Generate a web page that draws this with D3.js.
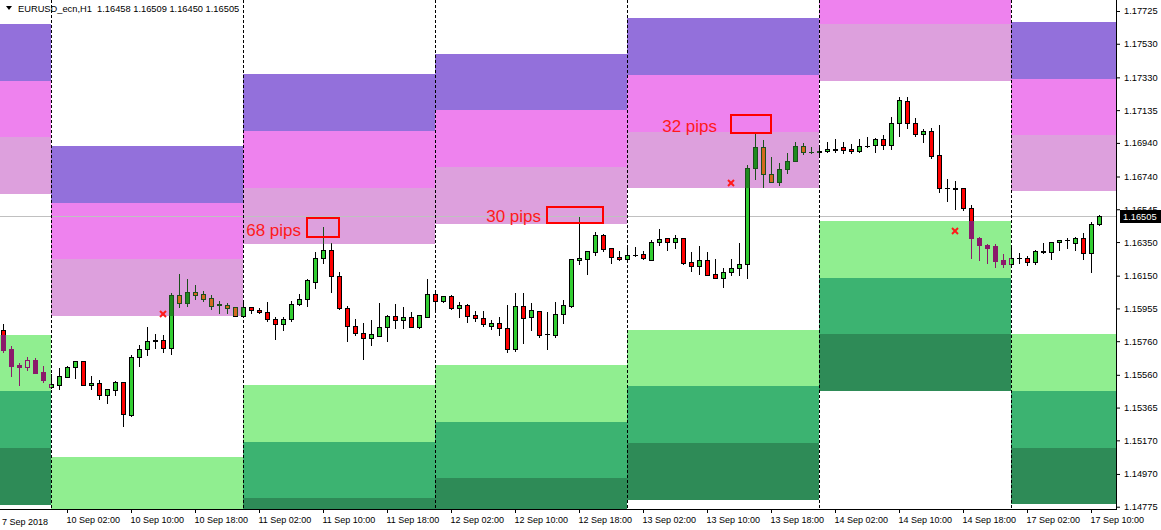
<!DOCTYPE html>
<html><head><meta charset="utf-8">
<script src="https://cdn.jsdelivr.net/npm/d3@7"></script>
<style>
html,body{margin:0;padding:0;background:#fff;}
svg{display:block;}
text{font-family:"Liberation Sans",Arial,sans-serif;}
</style></head><body>
<svg id="chart" width="1161" height="530"></svg>
<script>
// ---------------- DATA ----------------
const symbolTitle = "EURUSD_ecn,H1  1.16458 1.16509 1.16450 1.16505";
const sessionDays = ["2018-09-07","2018-09-10","2018-09-11","2018-09-12","2018-09-13","2018-09-14","2018-09-17"];
const sessionStartHour = [18,0,0,0,0,0,0];
const sessionBars = [6,24,24,24,24,24,12];
const priceRange = [1.147614, 1.177904];
const yTicks = [1.17725,1.17530,1.17330,1.17135,1.16940,1.16740,1.16545,1.16350,1.16150,1.15955,1.15760,1.15560,1.15365,1.15170,1.14970,1.14775];
const lastPrice = 1.16505;
// [open, high, low, close]
const candles = [
[1.15826,1.15862,1.15696,1.15708],[1.15712,1.15731,1.15553,1.15612],[1.15618,1.15632,1.15499,1.15608],[1.15608,1.15668,1.15589,1.15648],
[1.15648,1.15658,1.15569,1.15572],[1.15576,1.15612,1.15517,1.15529],[1.15489,1.15565,1.15480,1.15505],[1.15501,1.15602,1.15477,1.15553],
[1.15549,1.15612,1.15545,1.15606],[1.15605,1.15640,1.15543,1.15640],[1.15640,1.15640,1.15497,1.15497],[1.15497,1.15551,1.15474,1.15509],
[1.15509,1.15529,1.15418,1.15438],[1.15438,1.15474,1.15394,1.15474],[1.15470,1.15523,1.15442,1.15515],[1.15515,1.15515,1.15257,1.15325],
[1.15322,1.15678,1.15317,1.15664],[1.15664,1.15737,1.15614,1.15712],[1.15712,1.15844,1.15678,1.15761],[1.15759,1.15801,1.15718,1.15767],
[1.15767,1.15797,1.15694,1.15718],[1.15718,1.16045,1.15682,1.16035],[1.16035,1.16160,1.15965,1.15989],[1.15989,1.16130,1.15971,1.16053],
[1.16053,1.16094,1.16013,1.16036],[1.16041,1.16058,1.16001,1.16009],[1.16017,1.16036,1.15953,1.15971],[1.15975,1.16001,1.15929,1.15979],
[1.15975,1.15985,1.15926,1.15959],[1.15962,1.15965,1.15910,1.15912],[1.15912,1.15989,1.15910,1.15962],[1.15962,1.15962,1.15926,1.15944],
[1.15946,1.15956,1.15926,1.15932],[1.15932,1.15993,1.15880,1.15890],[1.15892,1.15902,1.15775,1.15860],[1.15860,1.15902,1.15828,1.15892],
[1.15890,1.15999,1.15880,1.15979],[1.15979,1.16041,1.15973,1.16011],[1.16009,1.16130,1.15971,1.16124],[1.16114,1.16292,1.16078,1.16253],
[1.16253,1.16441,1.16223,1.16301],[1.16301,1.16342,1.16054,1.16146],[1.16146,1.16172,1.15950,1.15956],[1.15956,1.15968,1.15759,1.15849],
[1.15849,1.15892,1.15797,1.15807],[1.15810,1.15866,1.15652,1.15777],[1.15777,1.15886,1.15736,1.15801],[1.15793,1.15985,1.15793,1.15843],
[1.15843,1.15917,1.15759,1.15910],[1.15908,1.15979,1.15838,1.15884],[1.15884,1.15962,1.15838,1.15902],[1.15902,1.15932,1.15842,1.15846],
[1.15846,1.15914,1.15836,1.15914],[1.15906,1.16128,1.15902,1.16039],[1.16039,1.16064,1.15946,1.16001],[1.16001,1.16027,1.15993,1.16027],
[1.16027,1.16035,1.15951,1.15956],[1.15956,1.15993,1.15906,1.15973],[1.15973,1.15979,1.15876,1.15908],[1.15914,1.15939,1.15880,1.15896],
[1.15896,1.15939,1.15850,1.15860],[1.15851,1.15886,1.15830,1.15866],[1.15866,1.15902,1.15797,1.15836],[1.15836,1.15973,1.15698,1.15712],
[1.15712,1.16045,1.15703,1.15969],[1.15969,1.16045,1.15751,1.15900],[1.15906,1.15985,1.15827,1.15946],[1.15939,1.15942,1.15786,1.15799],
[1.15800,1.15934,1.15715,1.15801],[1.15795,1.15991,1.15783,1.15920],[1.15920,1.16005,1.15870,1.15973],[1.15971,1.16249,1.15965,1.16249],
[1.16241,1.16501,1.16217,1.16253],[1.16251,1.16296,1.16162,1.16296],[1.16292,1.16408,1.16273,1.16392],[1.16392,1.16395,1.16298,1.16310],
[1.16313,1.16316,1.16227,1.16259],[1.16259,1.16296,1.16243,1.16247],[1.16247,1.16313,1.16233,1.16271],[1.16271,1.16320,1.16267,1.16275],
[1.16277,1.16296,1.16251,1.16253],[1.16245,1.16362,1.16245,1.16348],[1.16348,1.16427,1.16332,1.16368],[1.16372,1.16374,1.16303,1.16348],
[1.16348,1.16392,1.16316,1.16372],[1.16372,1.16374,1.16221,1.16227],[1.16229,1.16289,1.16178,1.16206],[1.16206,1.16326,1.16162,1.16241],
[1.16241,1.16292,1.16156,1.16156],[1.16158,1.16247,1.16138,1.16138],[1.16138,1.16197,1.16084,1.16170],[1.16170,1.16249,1.16152,1.16194],
[1.16194,1.16342,1.16152,1.16219],[1.16217,1.16808,1.16138,1.16789],[1.16792,1.17006,1.16727,1.16915],[1.16915,1.16957,1.16679,1.16753],
[1.16753,1.16854,1.16705,1.16709],[1.16709,1.16822,1.16691,1.16783],[1.16783,1.16878,1.16759,1.16832],[1.16832,1.16947,1.16830,1.16921],
[1.16921,1.16937,1.16874,1.16884],[1.16884,1.16917,1.16881,1.16887],[1.16887,1.16917,1.16868,1.16889],[1.16889,1.16945,1.16888,1.16902],
[1.16906,1.16961,1.16887,1.16898],[1.16914,1.16945,1.16878,1.16899],[1.16902,1.16931,1.16881,1.16890],[1.16890,1.16961,1.16888,1.16919],
[1.16919,1.16975,1.16917,1.16921],[1.16925,1.16971,1.16887,1.16961],[1.16961,1.16985,1.16902,1.16925],[1.16925,1.17092,1.16902,1.17056],
[1.17056,1.17215,1.16983,1.17195],[1.17187,1.17215,1.17027,1.17056],[1.17056,1.17088,1.16979,1.16991],[1.16991,1.17022,1.16947,1.17011],
[1.17011,1.17030,1.16852,1.16864],[1.16868,1.17046,1.16649,1.16673],[1.16673,1.16723,1.16594,1.16673],[1.16673,1.16713,1.16545,1.16667],
[1.16670,1.16673,1.16541,1.16551],[1.16551,1.16570,1.16257,1.16376],[1.16376,1.16380,1.16243,1.16331],[1.16331,1.16338,1.16227,1.16316],
[1.16326,1.16336,1.16203,1.16239],[1.16243,1.16277,1.16203,1.16221],[1.16221,1.16322,1.16213,1.16253],[1.16253,1.16283,1.16227,1.16253],
[1.16253,1.16267,1.16213,1.16233],[1.16233,1.16303,1.16221,1.16296],[1.16296,1.16342,1.16283,1.16292],[1.16289,1.16348,1.16251,1.16348],
[1.16348,1.16362,1.16303,1.16362],[1.16362,1.16376,1.16313,1.16362],[1.16347,1.16382,1.16303,1.16372],[1.16372,1.16402,1.16251,1.16283],
[1.16286,1.16468,1.16174,1.16457],[1.16458,1.16509,1.16450,1.16505]
];
// zone band edges per session (top -> bottom)
const upperZones = [
[1.17647,1.17308,1.16975,1.16636],
[1.16921,1.16582,1.16249,1.15910],
[1.17350,1.17011,1.16671,1.16338],
[1.17469,1.17136,1.16796,1.16457],
[1.17683,1.17344,1.17005,1.16671],
[1.18326,1.17986,1.17647,1.17308],
[1.17659,1.17323,1.16987,1.16651]
];
const lowerZones = [
[1.15797,1.15464,1.15124,1.14785],
[1.15071,1.14732,1.14399,1.14059],
[1.15499,1.15160,1.14827,1.14488],
[1.15618,1.15279,1.14946,1.14607],
[1.15827,1.15493,1.15154,1.14815],
[1.16475,1.16136,1.15803,1.15464],
[1.15800,1.15464,1.15127,1.14791]
];
const upperColors = ["#9370DB","#EE82EE","#DDA0DD"];
const lowerColors = ["#90EE90","#3CB371","#2E8B57"];
const markerBars = [20, 91, 119];
const markerPrices = [1.15922, 1.16701, 1.16416];
const noteLabels = ["68 pips","30 pips","32 pips"];
const noteBarFrom = [38, 68, 91];
const noteBarTo = [42, 75, 96];
const noteTop = [1.16495, 1.16557, 1.17108];
const noteBottom = [1.16382, 1.16461, 1.16997];
const noteTextEndBar = [37.25, 67.25, 89.25];

// ---------------- BUILD ----------------
const months = ["Jan","Feb","Mar","Apr","May","Jun","Jul","Aug","Sep","Oct","Nov","Dec"];
const barTimes = [], barInfo = [];
sessionDays.forEach((d, s) => {
  for (let h = 0; h < sessionBars[s]; h++) {
    const hr = sessionStartHour[s] + h;
    const key = d + " " + String(hr).padStart(2, "0") + ":00";
    barTimes.push(key);
    barInfo.push({day: d, hour: hr, session: s});
  }
});
const bars = candles.map((c, i) => ({t: barTimes[i], o: c[0], h: c[1], l: c[2], c: c[3], s: barInfo[i].session}));

const plotRight = 1116, plotBottom = 509;
const svg = d3.select("#chart");
const x = d3.scalePoint().domain(barTimes).range([3, 1099]);
const xi = d3.scaleLinear().domain([0, barTimes.length - 1]).range(x.range());
const y = d3.scaleLinear().domain(priceRange).range([plotBottom, 0]);
const R = v => Math.round(v);

svg.append("rect").attr("width", 1161).attr("height", 530).attr("fill", "#fff");
svg.append("clipPath").attr("id", "plotclip").append("rect").attr("x", 0).attr("y", 0).attr("width", plotRight).attr("height", plotBottom);
const plot = svg.append("g").attr("clip-path", "url(#plotclip)");

// session x extents
const sessionFirst = sessionDays.map((d, s) => barInfo.findIndex(b => b.session === s));
const sessX0 = sessionFirst.map((i, s) => s === 0 ? 0 : R(x(barTimes[i])));
const sessX1 = sessionFirst.map((i, s) => s === sessionDays.length - 1 ? plotRight : R(x(barTimes[sessionFirst[s + 1]])));

// zone bands
const bands = [];
sessionDays.forEach((d, s) => {
  for (let k = 0; k < 3; k++) {
    bands.push({s, kind: "up", color: upperColors[k], y0: R(y(upperZones[s][k])), y1: R(y(upperZones[s][k + 1]))});
    bands.push({s, kind: "dn", color: lowerColors[k], y0: R(y(lowerZones[s][k])), y1: R(y(lowerZones[s][k + 1]))});
  }
});
plot.selectAll("rect.band").data(bands).join("rect").attr("class", "band")
  .attr("x", b => sessX0[b.s]).attr("width", b => sessX1[b.s] - sessX0[b.s])
  .attr("y", b => b.y0).attr("height", b => b.y1 - b.y0).attr("fill", b => b.color);

// last price line
plot.append("line").attr("x1", 0).attr("x2", plotRight)
  .attr("y1", R(y(lastPrice)) + 0.5).attr("y2", R(y(lastPrice)) + 0.5)
  .attr("stroke", "#C0C0C0").attr("stroke-width", 1);

// day separators
const sepBars = barInfo.map((b, i) => ({b, i})).filter(o => o.b.hour === 0);
plot.selectAll("line.sep").data(sepBars).join("line").attr("class", "sep")
  .attr("x1", o => R(x(barTimes[o.i])) + 0.5).attr("x2", o => R(x(barTimes[o.i])) + 0.5)
  .attr("y1", 0).attr("y2", plotBottom)
  .attr("stroke", "#000").attr("stroke-width", 1).attr("stroke-dasharray", "3,2");

// candles
function drawCandles(g, data, st) {
  data.forEach(d => {
    const cx = R(x(d.t));
    const yt = R(y(Math.max(d.o, d.c))), yb = R(y(Math.min(d.o, d.c)));
    const yh = R(y(d.h)), yl = R(y(d.l));
    const bull = d.c > d.o;
    g.append("line").attr("x1", cx + 0.5).attr("x2", cx + 0.5).attr("y1", yh).attr("y2", yl + 1)
      .attr("stroke", st.wick).attr("stroke-width", 1);
    if (yb - yt < 1) {
      g.append("line").attr("x1", cx - 2).attr("x2", cx + 3).attr("y1", yt + 0.5).attr("y2", yt + 0.5)
        .attr("stroke", st.wick).attr("stroke-width", 1);
    } else {
      g.append("rect").attr("x", cx - 1.5).attr("width", 4).attr("y", yt + 0.5).attr("height", yb - yt)
        .attr("fill", bull ? st.bull : st.bear).attr("stroke", st.stroke).attr("stroke-width", 1);
    }
  });
}
drawCandles(plot.append("g"), bars, {bull: "#32CD32", bear: "#FF0000", stroke: "#000", wick: "#000"});

// zone-coloured overlay (candle parts inside zones)
const defs = svg.append("defs");
bands.forEach((b, j) => {
  defs.append("clipPath").attr("id", "bc" + j).append("rect")
    .attr("x", sessX0[b.s]).attr("y", b.y0).attr("width", sessX1[b.s] - sessX0[b.s]).attr("height", b.y1 - b.y0);
  const g = plot.append("g").attr("clip-path", "url(#bc" + j + ")");
  const st = b.kind === "up"
    ? {bull: "#1E8B1E", bear: "#D2691E", stroke: "#1B4F1B", wick: "#1B4F1B"}
    : {bull: b.color, bear: "#8B1A6B", stroke: "#8B1A6B", wick: "#8B1A6B"};
  const sub = bars.filter(d => { const cx = x(d.t); return cx >= sessX0[b.s] - 4 && cx <= sessX1[b.s] + 4; });
  drawCandles(g, sub, st);
});

// markers
const mk = plot.append("g").attr("stroke", "#FF1A1A").attr("stroke-width", 2);
markerBars.forEach((bi, i) => {
  const cx = x(barTimes[bi]), cy = y(markerPrices[i]);
  mk.append("line").attr("x1", cx - 3).attr("x2", cx + 3).attr("y1", cy - 3).attr("y2", cy + 3);
  mk.append("line").attr("x1", cx - 3).attr("x2", cx + 3).attr("y1", cy + 3).attr("y2", cy - 3);
});

// annotations
noteLabels.forEach((lab, i) => {
  const x0 = R(x(barTimes[noteBarFrom[i]])), x1 = R(x(barTimes[noteBarTo[i]]));
  const y0 = R(y(noteTop[i])), y1 = R(y(noteBottom[i]));
  plot.append("rect").attr("x", x0).attr("y", y0).attr("width", x1 - x0).attr("height", y1 - y0)
    .attr("fill", "none").attr("stroke", "#FF0000").attr("stroke-width", 2);
  plot.append("text").attr("x", xi(noteTextEndBar[i])).attr("y", y1 - 1).attr("text-anchor", "end")
    .attr("font-size", 17).attr("fill", "#FF1A1A").text(lab);
});

// axes frame
svg.append("line").attr("x1", plotRight + 0.5).attr("x2", plotRight + 0.5).attr("y1", 0).attr("y2", plotBottom + 1).attr("stroke", "#000");
svg.append("line").attr("x1", 0).attr("x2", plotRight + 1).attr("y1", plotBottom + 0.5).attr("y2", plotBottom + 0.5).attr("stroke", "#000");

// y axis
const yAxis = d3.axisRight(y).tickValues(yTicks).tickSize(4).tickPadding(4).tickSizeOuter(0).tickFormat(d3.format(".5f"));
const ya = svg.append("g").attr("transform", `translate(${plotRight},0)`).call(yAxis);
ya.select(".domain").remove();
ya.selectAll("text").attr("font-size", 9.3).attr("font-family", "Liberation Sans, Arial, sans-serif").attr("fill", "#000");

// last price label
const lpY = R(y(lastPrice));
svg.append("rect").attr("x", plotRight + 4).attr("y", lpY - 6).attr("width", 1161 - plotRight - 4).attr("height", 13).attr("fill", "#000");
svg.append("text").attr("x", plotRight + 7).attr("y", lpY + 4).attr("font-size", 9.3).attr("fill", "#fff").text(lastPrice.toFixed(5));

// x axis
const xTickVals = barTimes.filter((t, i) => i > 0 && barInfo[i].hour % 8 === 2);
const fmtX = t => {
  const i = barTimes.indexOf(t), b = barInfo[i];
  const [yy, mm, dd] = b.day.split("-").map(Number);
  return `${dd} ${months[mm - 1]} ${String(b.hour).padStart(2, "0")}:00`;
};
const xAxis = d3.axisBottom(x).tickValues(xTickVals).tickSize(4).tickPadding(4).tickSizeOuter(0).tickFormat(fmtX);
const xa = svg.append("g").attr("transform", `translate(0,${plotBottom})`).call(xAxis);
xa.select(".domain").remove();
xa.selectAll("text").attr("font-size", 9).attr("font-family", "Liberation Sans, Arial, sans-serif")
  .attr("text-anchor", "start").attr("dx", -1).attr("fill", "#000");
// first bar date label
const first = barInfo[0], [fy, fm, fd] = first.day.split("-").map(Number);
svg.append("text").attr("x", 2).attr("y", plotBottom + 16).attr("font-size", 9).attr("fill", "#000")
  .text(`${fd} ${months[fm - 1]} ${fy}`);

// title
svg.append("path").attr("d", "M6,6 L12,6 L9,10 Z").attr("fill", "#000");
svg.append("text").attr("x", 18).attr("y", 12).attr("font-size", 9.3).attr("fill", "#000")
  .attr("xml:space", "preserve").text(symbolTitle);
</script></body></html>
